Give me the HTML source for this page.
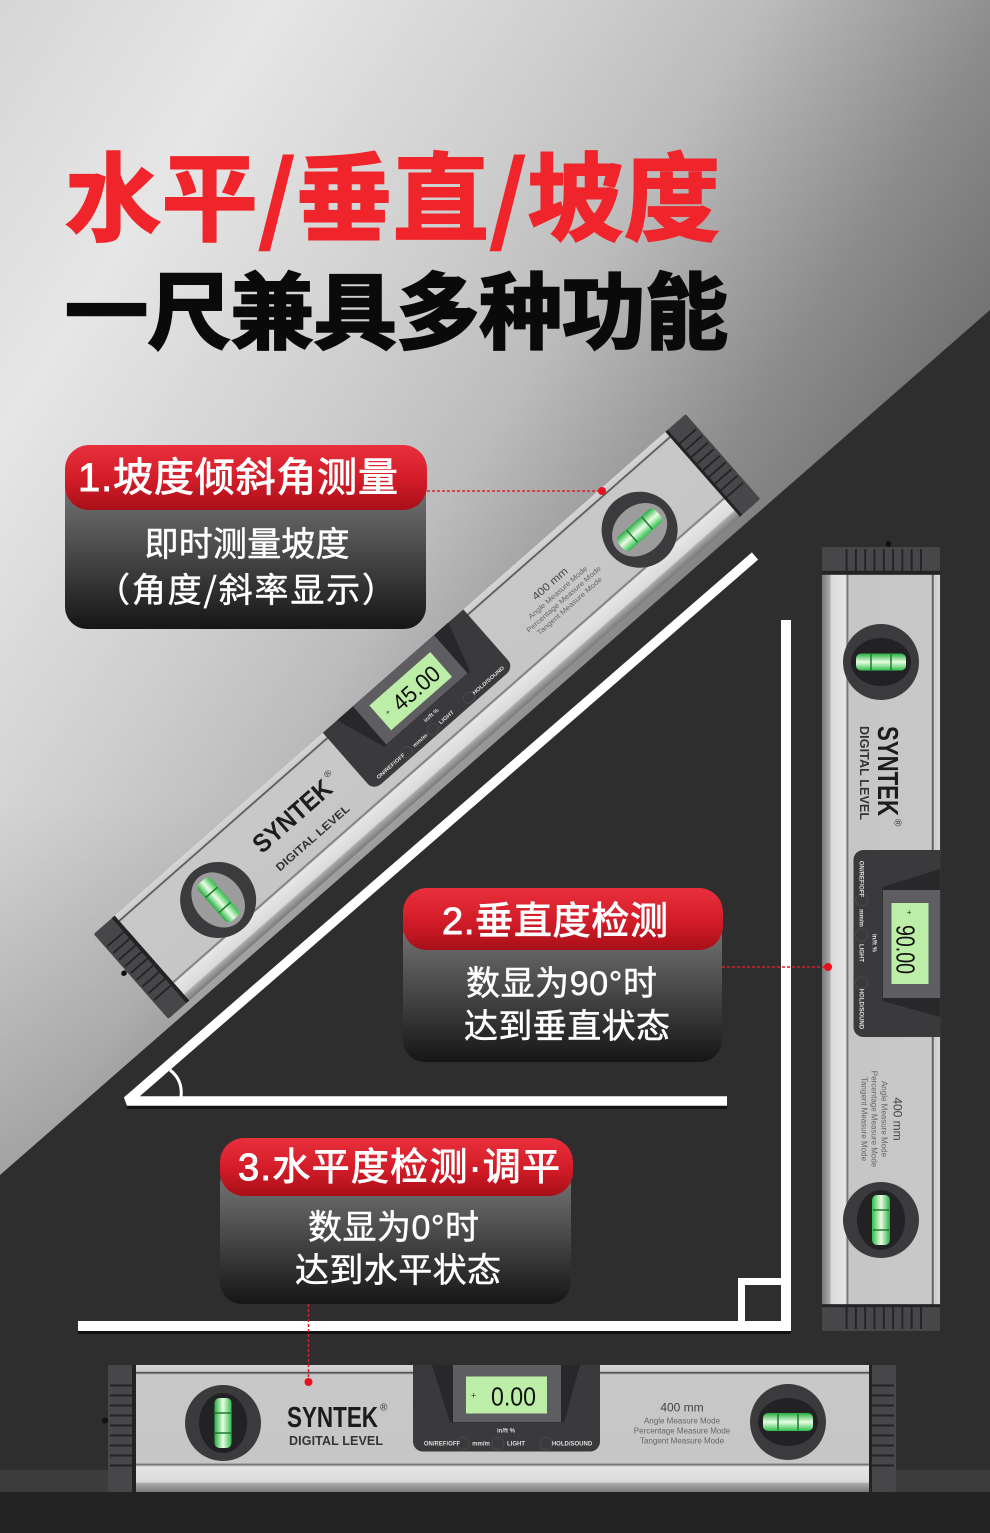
<!DOCTYPE html>
<html><head><meta charset="utf-8"><style>
html,body{margin:0;padding:0;background:#2c2c2c}
svg{display:block}
text{font-family:"Liberation Sans","Noto Sans CJK SC",sans-serif}
.t{font-family:"Noto Sans CJK SC","Liberation Sans",sans-serif}
</style></head><body>
<svg xmlns="http://www.w3.org/2000/svg" width="990" height="1533" viewBox="0 0 990 1533">
<defs>
<linearGradient id="bg" gradientUnits="userSpaceOnUse" x1="29" y1="-45" x2="903" y2="508"><stop offset="0" stop-color="#d6d6d6"/><stop offset=".226" stop-color="#e6e6e6"/><stop offset=".468" stop-color="#cfcfcf"/><stop offset=".623" stop-color="#bcbcbc"/><stop offset=".826" stop-color="#8c8c8c"/><stop offset="1" stop-color="#6e6e6e"/></linearGradient>
<linearGradient id="low" x1="0" y1="0" x2="0" y2="1"><stop offset="0" stop-color="#000" stop-opacity="0"/><stop offset="1" stop-color="#000" stop-opacity=".15"/></linearGradient>
<linearGradient id="red" x1="0" y1="0" x2="0" y2="1"><stop offset="0" stop-color="#e9303c"/><stop offset=".55" stop-color="#d11c28"/><stop offset="1" stop-color="#a80f18"/></linearGradient>
<linearGradient id="dk" x1="0" y1="0" x2="0" y2="1"><stop offset="0" stop-color="#7c7c7c"/><stop offset=".4" stop-color="#555"/><stop offset="1" stop-color="#161616"/></linearGradient>
<linearGradient id="metal" x1="0" y1="0" x2="0" y2="1">
<stop offset="0" stop-color="#d6d6d6"/><stop offset=".05" stop-color="#cdcdcd"/><stop offset=".06" stop-color="#3c3c3c"/><stop offset=".075" stop-color="#c8c8c8"/><stop offset=".77" stop-color="#c6c6c6"/><stop offset=".785" stop-color="#6e6e6e"/><stop offset=".8" stop-color="#e6e6e6"/><stop offset=".92" stop-color="#dadada"/><stop offset=".935" stop-color="#a8a8a8"/><stop offset="1" stop-color="#7a7a7a"/></linearGradient>
<linearGradient id="gv" x1="0" y1="0" x2="1" y2="0"><stop offset="0" stop-color="#25b040"/><stop offset=".5" stop-color="#eafce4"/><stop offset="1" stop-color="#2dc04a"/></linearGradient>
<linearGradient id="gh" x1="0" y1="0" x2="0" y2="1"><stop offset="0" stop-color="#25b040"/><stop offset=".5" stop-color="#eafce4"/><stop offset="1" stop-color="#2dc04a"/></linearGradient>
<g id="body">
<circle cx="-397" cy="-8" r="3" fill="#111"/>
<rect x="-394" y="-63.5" width="30" height="127" rx="2" fill="#47474a"/>
<rect x="366" y="-63.5" width="28" height="127" rx="2" fill="#47474a"/>
<g fill="#232325"><rect x="-392" y="-44" width="22" height="2"/><rect x="-392" y="-34" width="22" height="2"/><rect x="-392" y="-24" width="22" height="2"/><rect x="-392" y="-14" width="22" height="2"/><rect x="-392" y="-4" width="22" height="2"/><rect x="-392" y="6" width="22" height="2"/><rect x="-392" y="16" width="22" height="2"/><rect x="-392" y="26" width="22" height="2"/><rect x="-392" y="36" width="22" height="2"/>
<rect x="370" y="-44" width="22" height="2"/><rect x="370" y="-34" width="22" height="2"/><rect x="370" y="-24" width="22" height="2"/><rect x="370" y="-14" width="22" height="2"/><rect x="370" y="-4" width="22" height="2"/><rect x="370" y="6" width="22" height="2"/><rect x="370" y="16" width="22" height="2"/><rect x="370" y="26" width="22" height="2"/><rect x="370" y="36" width="22" height="2"/>
<rect x="-370" y="-63.500" width="4" height="127"/><rect x="366" y="-63.500" width="4" height="127"/></g>
<rect x="-366" y="-63.5" width="733" height="127" fill="url(#metal)"/>
</g>
<g id="panel">
<path d="M-89-63.5H98V13a10 10 0 0 1-10 10H-79a10 10 0 0 1-10-10Z" fill="#3a3a3d"/>
<path d="M-70-63.5H78L62-6H-52Z" fill="#28282b"/>
<path d="M-49-63.5H59V-6.500H-49Z" fill="#5e5e62"/>
<rect x="-36" y="-52" width="81" height="37" fill="#bdeea8"/>
<g fill="none" stroke="#4a4a4d" stroke-width="1"><circle cx="-39" cy="15" r="6"/><circle cx="-4" cy="15" r="6"/><circle cx="44" cy="15" r="6"/></g>
</g>
<g id="vr"><circle r="38" fill="#3b3b3d"/><ellipse rx="24" ry="30" fill="currentColor"/><rect x="-8.500" y="-25" width="17" height="50" rx="5" fill="url(#gv)"/><path d="M-8-10H8M-8 10H8" stroke="#1c7a28" stroke-width="1.500"/></g>
<g id="hr"><circle r="38" fill="#3b3b3d"/><ellipse rx="30" ry="24" fill="currentColor"/><rect x="-25" y="-9" width="50" height="18" rx="5" fill="url(#gh)"/><path d="M-10-8V8M10-8V8" stroke="#1c7a28" stroke-width="1.500"/></g>
</defs>

<rect width="990" height="1533" fill="url(#bg)"/>
<rect y="800" width="990" height="400" fill="url(#low)"/>
<polygon points="990,310 990,1533 0,1533 0,1175" fill="#2e2e2e"/>
<rect y="1470" width="990" height="23" fill="#3c3c3c"/>
<rect y="1492" width="990" height="41" fill="#232323"/>

<text class="t" x="65" y="233" font-size="96" font-weight="700" fill="#f0252b" stroke="#f0252b" stroke-width="2" textLength="655">水平/垂直/坡度</text>
<text class="t" x="65" y="342" font-size="83" font-weight="700" fill="#0a0a0a" stroke="#0a0a0a" stroke-width="2.500" textLength="663">一尺兼具多种功能</text>

<!-- white lines -->
<g fill="none" stroke="#000" stroke-opacity=".6" stroke-width="10" transform="translate(0,3)">
<path d="M78 1326H786V620"/><path d="M127 1101H727"/>
</g>
<g fill="none" stroke="#fff">
<path d="M755 556 127 1101H727" stroke-width="9.500" stroke-linejoin="bevel"/>
<path d="M170 1070Q183 1080 181 1097" stroke-width="3"/>
<path d="M78 1326H786V620" stroke-width="10"/>
<path d="M741.500 1322V1281.500H786" stroke-width="7"/>
</g>

<!-- diagonal level -->
<g transform="translate(427,716.500) rotate(-41.300)">
<g transform="scale(1,.89)">
<use href="#body"/><use href="#panel"/>
<text x="-215" y="-6" font-size="29" font-weight="700" fill="#1c1c1c" textLength="96" lengthAdjust="spacingAndGlyphs">SYNTEK</text>
<text x="-116" y="-22" font-size="10" fill="#333">®</text>
<text x="-213" y="22" font-size="12.500" font-weight="700" fill="#333" textLength="94">DIGITAL LEVEL</text>
<text x="180" y="-17" font-size="12" fill="#444" text-anchor="middle">400 mm</text>
<g font-size="8" fill="#666" text-anchor="middle"><text x="180" y="-5">Angle Measure Mode</text><text x="180" y="5">Percentage Measure Mode</text><text x="180" y="15">Tangent Measure Mode</text></g>
<g font-size="6" font-weight="700" fill="#ddd" text-anchor="middle"><text x="-60" y="17">ON/REF/OFF</text><text x="-21" y="17">mm/m</text><text x="14" y="17">LIGHT</text><text x="70" y="17">HOLD/SOUND</text><text x="4" y="4">in/ft %</text></g>
<text x="-29" y="-30" font-size="8" fill="#333">+</text>
<text x="-17" y="-23" font-size="26" fill="#111" textLength="55" lengthAdjust="spacingAndGlyphs">45.00</text>
</g>
<use href="#vr" x="-278" color="#9c9c9c"/><use href="#hr" x="283" color="#9c9c9c"/>
</g>

<!-- vertical level -->
<g transform="translate(881,939) rotate(90)">
<g transform="scale(.995,.93)"><use href="#body"/></g>
<g transform="translate(0,4.500)">
<use href="#panel"/>
<text x="-213" y="-1.500" font-size="29" font-weight="700" fill="#1c1c1c" textLength="90" lengthAdjust="spacingAndGlyphs">SYNTEK</text>
<text x="-120" y="-18" font-size="10" fill="#333">®</text>
<text x="-213" y="16.500" font-size="12.500" font-weight="700" fill="#333" textLength="94">DIGITAL LEVEL</text>
<text x="180" y="-17" font-size="12" fill="#444" text-anchor="middle">400 mm</text>
<g font-size="8" fill="#666" text-anchor="middle"><text x="180" y="-5">Angle Measure Mode</text><text x="180" y="5">Percentage Measure Mode</text><text x="180" y="15">Tangent Measure Mode</text></g>
<g font-size="6" font-weight="700" fill="#ddd" text-anchor="middle"><text x="-60" y="17">ON/REF/OFF</text><text x="-21" y="17">mm/m</text><text x="14" y="17">LIGHT</text><text x="70" y="17">HOLD/SOUND</text><text x="4" y="4">in/ft %</text></g>
<text x="-29" y="-30" font-size="8" fill="#333">+</text>
<text x="-14" y="-20" font-size="26" fill="#111" textLength="49" lengthAdjust="spacingAndGlyphs">90.00</text>
</g>
<use href="#vr" x="-277" color="#222224"/><use href="#hr" x="281" color="#222224"/>
</g>

<!-- horizontal level -->
<g transform="translate(502,1428.500)">
<use href="#body"/><use href="#panel"/>
<text x="-215" y="-1.500" font-size="29" font-weight="700" fill="#1c1c1c" textLength="91" lengthAdjust="spacingAndGlyphs">SYNTEK</text>
<text x="-122" y="-18" font-size="10" fill="#333">®</text>
<text x="-213" y="16.500" font-size="12.500" font-weight="700" fill="#333" textLength="94">DIGITAL LEVEL</text>
<text x="180" y="-17" font-size="12" fill="#444" text-anchor="middle">400 mm</text>
<g font-size="8" fill="#666" text-anchor="middle"><text x="180" y="-5">Angle Measure Mode</text><text x="180" y="5">Percentage Measure Mode</text><text x="180" y="15">Tangent Measure Mode</text></g>
<g font-size="6" font-weight="700" fill="#ddd" text-anchor="middle"><text x="-60" y="17">ON/REF/OFF</text><text x="-21" y="17">mm/m</text><text x="14" y="17">LIGHT</text><text x="70" y="17">HOLD/SOUND</text><text x="4" y="4">in/ft %</text></g>
<text x="-31" y="-30" font-size="9" fill="#333">+</text>
<text x="-11" y="-23" font-size="26" fill="#111" textLength="45" lengthAdjust="spacingAndGlyphs">0.00</text>
<use href="#vr" x="-279" y="-5.500" color="#222224"/><use href="#hr" x="286" y="-6.500" color="#222224"/>
</g>

<!-- callout 1 -->
<rect x="65" y="470" width="361" height="159" rx="22" fill="url(#dk)"/>
<rect x="65" y="445" width="362" height="65" rx="24" fill="url(#red)"/>
<text x="78" y="491" font-size="40" fill="#fff" stroke="#fff" stroke-width=".9" textLength="320">1.坡度倾斜角测量</text>
<text x="247" y="556" font-size="34" fill="#fff" stroke="#fff" stroke-width=".5" text-anchor="middle" textLength="205">即时测量坡度</text>
<text class="t" x="96" y="602" font-size="34" fill="#fff" stroke="#fff" stroke-width=".5" textLength="300">（角度/斜率显示）</text>
<path d="M427 491H602" stroke="#e0202c" stroke-width="1.500" stroke-dasharray="3 2" fill="none"/>
<circle cx="602" cy="491" r="4" fill="#e8101c"/>

<!-- callout 2 -->
<rect x="403" y="912" width="319" height="150" rx="22" fill="url(#dk)"/>
<rect x="403" y="888" width="320" height="62" rx="24" fill="url(#red)"/>
<text x="442" y="934" font-size="38" fill="#fff" stroke="#fff" stroke-width=".9" textLength="226">2.垂直度检测</text>
<text x="466" y="995" font-size="34" fill="#fff" stroke="#fff" stroke-width=".5" textLength="191">数显为90°时</text>
<text x="464" y="1038" font-size="34" fill="#fff" stroke="#fff" stroke-width=".5" textLength="206">达到垂直状态</text>
<path d="M722 967H828" stroke="#d0202c" stroke-width="1.500" stroke-dasharray="3 2" fill="none"/>
<circle cx="828" cy="967" r="4" fill="#e8101c"/>

<!-- callout 3 -->
<rect x="220" y="1162" width="351" height="142" rx="22" fill="url(#dk)"/>
<rect x="220" y="1138" width="353" height="58" rx="24" fill="url(#red)"/>
<text x="238" y="1180" font-size="38" fill="#fff" stroke="#fff" stroke-width=".9" textLength="322">3.水平度检测·调平</text>
<text x="308" y="1239" font-size="34" fill="#fff" stroke="#fff" stroke-width=".5" textLength="171">数显为0°时</text>
<text x="295" y="1282" font-size="34" fill="#fff" stroke="#fff" stroke-width=".5" textLength="206">达到水平状态</text>
<path d="M308.500 1304V1382" stroke="#d0202c" stroke-width="1.500" stroke-dasharray="3 2" fill="none"/>
<circle cx="308.500" cy="1382" r="4" fill="#e8101c"/>
</svg>
</body></html>
